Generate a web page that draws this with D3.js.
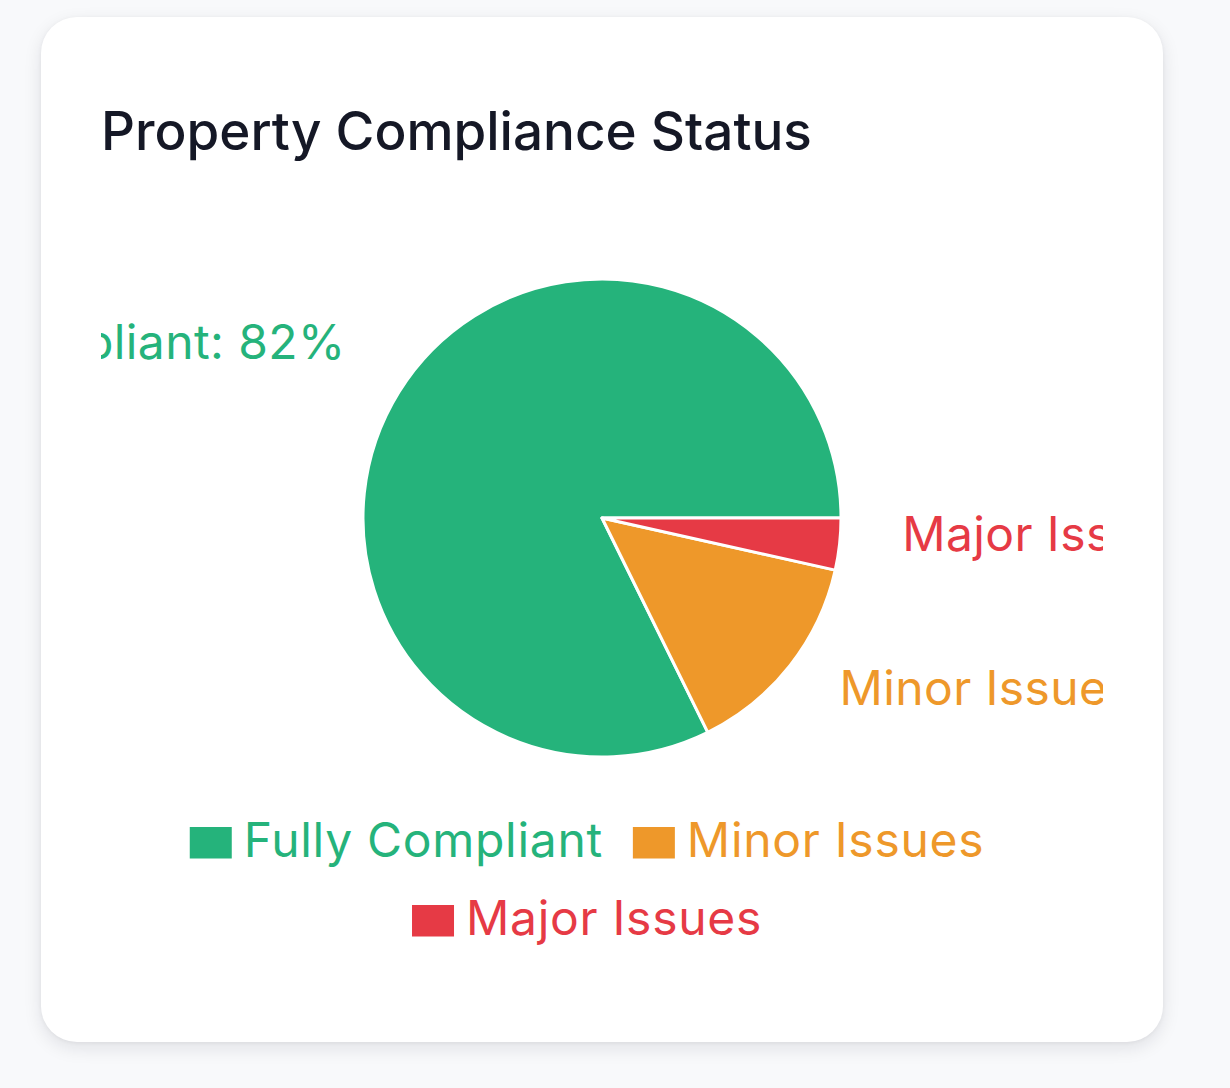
<!DOCTYPE html>
<html>
<head>
<meta charset="utf-8">
<script src="https://cdn.jsdelivr.net/npm/d3@7"></script>
<style>
  html, body { margin: 0; padding: 0; background: #f8f9fb; width: 1230px; height: 1088px; overflow: hidden; }
  .card {
    position: absolute; left: 41px; top: 17px; width: 1122px; height: 1025px;
    background: #ffffff; border-radius: 36px;
    box-shadow: 0 6px 18px rgba(17, 24, 39, 0.10), 0 1px 4px rgba(17, 24, 39, 0.05);
  }
  svg { position: absolute; left: 0; top: 0; font-family: Inter, "Noto Sans", sans-serif; }
</style>
</head>
<body>
<div class="card"></div>
<svg id="chart" width="1230" height="1088"></svg>
<script>
const title = "Property Compliance Status";
const categories = ["Fully Compliant", "Minor Issues", "Major Issues"];
const values = [82.3, 14.2, 3.5];
const colors = ["#25b37b", "#ee982a", "#e63a45"];

const svg = d3.select("#chart");

// layout
const inner = { x: 101, y: 77, w: 1002, h: 905 };
const cx = inner.x + inner.w / 2;
const cy = 518;
const outerR = 239;
const labelR = 302;

svg.append("text")
  .attr("x", inner.x)
  .attr("y", 150)
  .attr("fill", "#151826")
  .attr("font-size", 53)
  .attr("font-weight", 500)
  .text(title);

const defs = svg.append("defs");
defs.append("clipPath").attr("id", "clip")
  .append("rect")
  .attr("x", inner.x).attr("y", 0)
  .attr("width", inner.w).attr("height", 1088);

const data = categories.map((c, i) => ({ name: c, value: values[i], color: colors[i] }));
const total = d3.sum(values);

const pie = d3.pie().sort(null).value(d => d.value)
  .startAngle(Math.PI / 2).endAngle(Math.PI / 2 - 2 * Math.PI);
const arcs = pie(data);

const arc = d3.arc().innerRadius(0).outerRadius(outerR);
const labelArc = d3.arc().innerRadius(labelR).outerRadius(labelR);

const g = svg.append("g").attr("clip-path", "url(#clip)");
const pg = g.append("g").attr("transform", `translate(${cx},${cy})`);

pg.selectAll("path.slice").data(arcs).enter().append("path")
  .attr("class", "slice")
  .attr("d", arc)
  .attr("fill", d => d.data.color)
  .attr("stroke", "#ffffff")
  .attr("stroke-width", 3)
  .attr("stroke-linejoin", "round");

pg.selectAll("text.lbl").data(arcs).enter().append("text")
  .attr("class", "lbl")
  .attr("x", d => labelArc.centroid(d)[0])
  .attr("y", d => labelArc.centroid(d)[1])
  .attr("text-anchor", d => labelArc.centroid(d)[0] > 0 ? "start" : "end")
  .attr("fill", d => d.data.color)
  .attr("font-size", 48)
  .attr("letter-spacing", 0.4)
  .text(d => `${d.data.name}: ${Math.round(d.data.value / total * 100)}%`);

// legend
const iconW = 42, iconH = 31.5, iconGap = 12, itemGap = 30;
const rowBaselines = [857, 935];
const lg = svg.append("g");
const items = data.map(d => {
  const t = lg.append("text").attr("font-size", 48).attr("letter-spacing", 0.7)
    .attr("fill", d.color).text(d.name);
  return { d, t, w: iconW + iconGap + t.node().getComputedTextLength() + itemGap };
});
const rows = [];
let cur = [], curW = 0;
items.forEach(it => {
  if (cur.length && curW + it.w > inner.w) { rows.push(cur); cur = []; curW = 0; }
  cur.push(it); curW += it.w;
});
if (cur.length) rows.push(cur);

rows.forEach((row, ri) => {
  const rw = d3.sum(row, r => r.w);
  let x = cx - rw / 2;
  const base = rowBaselines[ri] !== undefined ? rowBaselines[ri] : rowBaselines[0] + ri * 78;
  row.forEach(it => {
    lg.append("rect")
      .attr("x", x).attr("y", base - 30)
      .attr("width", iconW).attr("height", iconH)
      .attr("fill", it.d.color);
    it.t.attr("x", x + iconW + iconGap).attr("y", base);
    x += it.w;
  });
});
</script>
</body>
</html>
